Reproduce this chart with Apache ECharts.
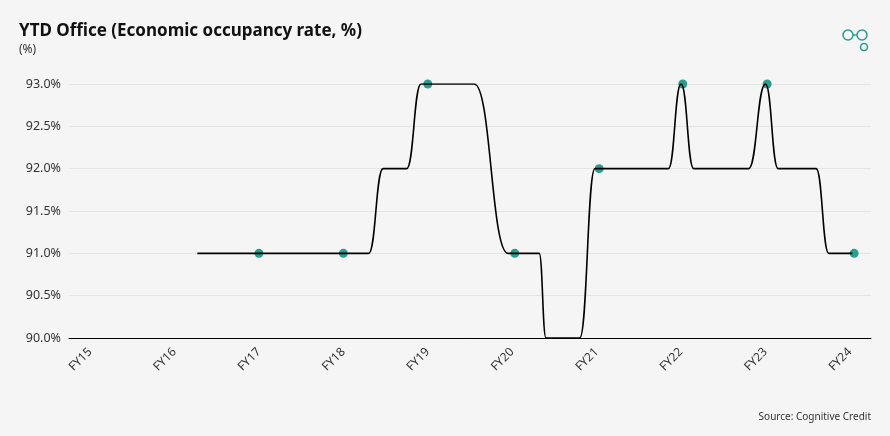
<!DOCTYPE html>
<html><head><meta charset="utf-8">
<script src="https://cdn.jsdelivr.net/npm/echarts@6/dist/echarts.min.js"></script>
<style>html,body{margin:0;background:#f5f5f5}#c{width:890px;height:436px}</style>
</head><body><div id="c"></div>
<script>
const lineX=[2016.27,2017,2018,2018.3,2018.47,2018.75,2018.92,2019.55,2019.95,2020.32,2020.4,2020.8,2020.98,2021.85,2022.0,2022.15,2022.8,2023.0,2023.15,2023.6,2023.75,2024.03];
const lineY=[91,91,91,91,92,92,93,93,91,91,90,90,92,92,93,92,92,93,92,92,91,91];
const markX=[2017.0,2018.0,2019.0,2020.03,2021.03,2022.02,2023.02,2024.05];
const markY=[91,91,93,91,92,93,93,91];
const F='Noto Sans';
const chart=echarts.init(document.getElementById('c'));
chart.setOption({
backgroundColor:'#f5f5f5',
title:[{text:'YTD Office (Economic occupancy rate, %)',left:14,top:18,textStyle:{fontFamily:F,fontSize:17,fontWeight:'bold',color:'#111'}},
{text:'(%)',left:14,top:39,textStyle:{fontFamily:F,fontSize:12,fontWeight:'normal',color:'#333'}},
{text:'Source: Cognitive Credit',right:14,top:407,textStyle:{fontFamily:F,fontSize:10,fontWeight:'normal',color:'#333'}}],
graphic:[{type:'circle',shape:{cx:848,cy:35,r:5},style:{fill:'none',stroke:'#2a9d8f',lineWidth:1.5}},
{type:'circle',shape:{cx:862,cy:35,r:5},style:{fill:'none',stroke:'#2a9d8f',lineWidth:1.5}},
{type:'circle',shape:{cx:864,cy:47,r:3.5},style:{fill:'none',stroke:'#2a9d8f',lineWidth:1.5}},
{type:'line',shape:{x1:853,y1:35,x2:857,y2:35},style:{stroke:'#2a9d8f',lineWidth:1.5}}],
grid:{left:69,right:19,top:84,bottom:98},
xAxis:{type:'value',min:2014.75,max:2024.25,interval:0.25,splitLine:{show:false},
axisLine:{lineStyle:{color:'#000'}},axisTick:{show:false},
axisLabel:{rotate:45,color:'#333',fontFamily:F,fontSize:12,showMaxLabel:false,showMinLabel:false,margin:12,
formatter:v=>Math.abs(v-Math.round(v))<1e-6?'FY'+String(Math.round(v)).slice(2):''}},
yAxis:{type:'value',min:90,max:93,interval:0.5,axisLine:{show:false},axisTick:{show:false},
splitLine:{lineStyle:{color:'#e4e4e4'}},
axisLabel:{color:'#333',fontFamily:F,fontSize:12.5,formatter:v=>v.toFixed(1)+'%'}},
series:[{type:'line',data:lineX.map((x,i)=>[x,lineY[i]]),smooth:0.5,smoothMonotone:'x',showSymbol:false,lineStyle:{color:'#000',width:1.6}},
{type:'scatter',data:markX.map((x,i)=>[x,markY[i]]),symbolSize:9,itemStyle:{color:'#2a9d8f',opacity:1}}]
});
</script></body></html>
